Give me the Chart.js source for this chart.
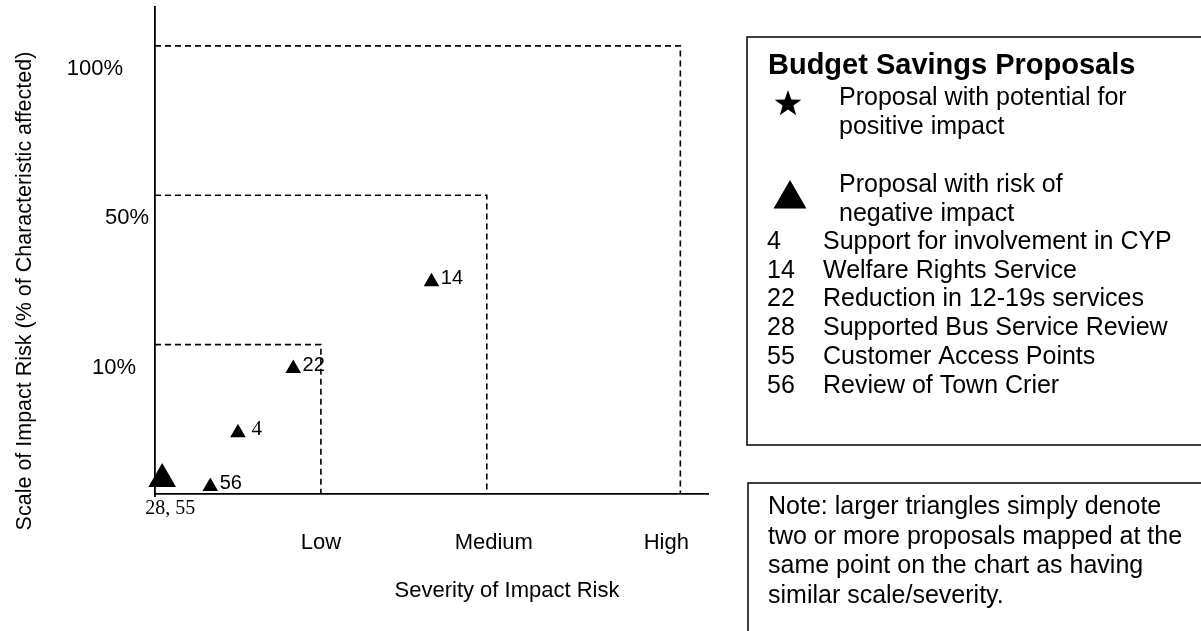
<!DOCTYPE html>
<html>
<head>
<meta charset="utf-8">
<script src="https://cdn.jsdelivr.net/npm/chart.js@4.4.0/dist/chart.umd.min.js"></script>
<style>
  html, body { margin: 0; padding: 0; background: #fff; }
  canvas { display: block; }
</style>
</head>
<body>
<canvas id="riskChart" width="1201" height="631"></canvas>
<script>
// zone boundaries: severity on x, scale bands on y
const severityBands = ['Low', 'Medium', 'High'];
const severityLimits = [3, 6, 9.5];
const scaleBands = ['10%', '50%', '100%'];
const scaleLimits = [1, 2, 3];

// proposals plotted on the chart
const pointLabels = ['28, 55', '56', '4', '22', '14'];
const pointSeverity = [0.13, 1.0, 1.5, 2.5, 5.0];
const pointScale = [0.10, 0.05, 0.41, 0.84, 1.42];
const pointCount = [2, 1, 1, 1, 1];

// legend text
const proposalIds = ['4', '14', '22', '28', '55', '56'];
const proposalNames = [
  'Support for involvement in CYP',
  'Welfare Rights Service',
  'Reduction in 12-19s services',
  'Supported Bus Service Review',
  'Customer Access Points',
  'Review of Town Crier'
];
const noteLines = [
  'Note: larger triangles simply denote',
  'two or more proposals mapped at the',
  'same point on the chart as having',
  'similar scale/severity.'
];

const SANS = '"Liberation Sans", Arial, sans-serif';
const SERIF = '"Liberation Serif", "Times New Roman", serif';

// dashed zone outlines, one dataset per band
const zoneSets = severityLimits.map((sx, i) => ({
  type: 'scatter',
  showLine: true,
  data: [{ x: 0, y: scaleLimits[i] }, { x: sx, y: scaleLimits[i] }, { x: sx, y: 0 }],
  borderColor: '#000',
  borderWidth: 1.6,
  borderDash: [6, 4],
  pointRadius: 0,
  fill: false
}));

const pointSet = {
  type: 'scatter',
  data: pointSeverity.map((v, i) => ({ x: v, y: pointScale[i] })),
  pointStyle: 'triangle',
  pointRadius: pointCount.map(c => c > 1 ? 16 : 9),
  backgroundColor: '#000',
  borderColor: '#000',
  borderWidth: 0,
  clip: false
};

function drawStar(ctx, cx, cy, R) {
  const r = R * 0.4;
  ctx.beginPath();
  for (let k = 0; k < 10; k++) {
    const a = -Math.PI / 2 + k * Math.PI / 5;
    const rr = k % 2 === 0 ? R : r;
    ctx.lineTo(cx + rr * Math.cos(a), cy + rr * Math.sin(a));
  }
  ctx.closePath();
  ctx.fill();
}

function drawTri(ctx, cx, cy, r) {
  ctx.beginPath();
  ctx.moveTo(cx, cy - r);
  ctx.lineTo(cx + r * Math.sin(2 * Math.PI / 3), cy + r / 2);
  ctx.lineTo(cx - r * Math.sin(2 * Math.PI / 3), cy + r / 2);
  ctx.closePath();
  ctx.fill();
}

const decor = {
  id: 'decor',
  afterDraw(chart) {
    const ctx = chart.ctx;
    const xs = chart.scales.x, ys = chart.scales.y;
    ctx.save();
    ctx.fillStyle = '#000';
    ctx.strokeStyle = '#000';

    // small stub of the y axis below the x axis
    ctx.lineWidth = 1.8;
    ctx.beginPath();
    ctx.moveTo(xs.left, ys.bottom);
    ctx.lineTo(xs.left, ys.bottom + 3);
    ctx.stroke();

    // y band labels
    const yLabelX = [114, 127, 95];
    ctx.font = '22px ' + SANS;
    ctx.textAlign = 'center';
    ctx.textBaseline = 'middle';
    scaleBands.forEach((t, i) => {
      ctx.fillText(t, yLabelX[i], ys.getPixelForValue(scaleLimits[i]) + 23);
    });

    // x band labels
    const xShift = [0, 7, -14];
    severityBands.forEach((t, i) => {
      ctx.fillText(t, xs.getPixelForValue(severityLimits[i]) + xShift[i], 543);
    });

    // axis titles
    ctx.fillText('Severity of Impact Risk', 507, 591);
    ctx.save();
    ctx.translate(25, 291);
    ctx.rotate(-Math.PI / 2);
    ctx.font = '21.5px ' + SANS;
    ctx.fillText('Scale of Impact Risk (% of Characteristic affected)', 0, 0);
    ctx.restore();

    // point labels
    const meta = chart.getDatasetMeta(chart.data.datasets.length - 1);
    meta.data.forEach((el, i) => {
      const t = pointLabels[i];
      const r = pointCount[i] > 1 ? 16 : 9;
      if (pointCount[i] > 1) {
        ctx.font = '20px ' + SERIF;
        ctx.textAlign = 'center';
        ctx.fillText(t, el.x + 8, el.y + 30);
      } else if (t === '4') {
        ctx.font = '21px ' + SERIF;
        ctx.textAlign = 'left';
        ctx.fillText(t, el.x + 13.5, el.y - 3);
      } else {
        ctx.font = '20px ' + SANS;
        ctx.textAlign = 'left';
        ctx.fillText(t, el.x + r * 0.87 + 1.5, el.y - 3);
      }
    });

    // legend box
    ctx.lineWidth = 1.5;
    ctx.strokeRect(747, 37, 480, 408);
    ctx.textAlign = 'left';
    ctx.textBaseline = 'alphabetic';
    ctx.font = 'bold 29px ' + SANS;
    ctx.fillText('Budget Savings Proposals', 768, 74);
    drawStar(ctx, 788, 104, 14);
    ctx.font = '25px ' + SANS;
    ctx.fillText('Proposal with potential for', 839, 105);
    ctx.fillText('positive impact', 839, 134);
    drawTri(ctx, 790, 199, 19);
    ctx.fillText('Proposal with risk of', 839, 192);
    ctx.fillText('negative impact', 839, 221);
    proposalIds.forEach((id, i) => {
      const y = 249 + i * 28.7;
      ctx.fillText(id, 767, y);
      ctx.fillText(proposalNames[i], 823, y);
    });

    // note box
    ctx.strokeRect(748, 483, 480, 200);
    noteLines.forEach((t, i) => ctx.fillText(t, 768, 514 + i * 29.7));

    ctx.restore();
  }
};

new Chart(document.getElementById('riskChart'), {
  type: 'scatter',
  data: { datasets: [...zoneSets, pointSet] },
  options: {
    responsive: false,
    animation: false,
    events: [],
    layout: { autoPadding: false, padding: { left: 155, right: 493, top: 7, bottom: 137 } },
    plugins: { legend: { display: false }, tooltip: { enabled: false } },
    scales: {
      x: {
        type: 'linear', min: 0, max: 10,
        grid: { display: false, drawTicks: false },
        ticks: { display: false },
        border: { color: '#000', width: 1.8 },
        afterFit: s => { s.height = 0; }
      },
      y: {
        type: 'linear', min: 0, max: 3.26,
        grid: { display: false, drawTicks: false },
        ticks: { display: false },
        border: { color: '#000', width: 1.8 },
        afterFit: s => { s.width = 0; }
      }
    }
  },
  plugins: [decor]
});
</script>
</body>
</html>
